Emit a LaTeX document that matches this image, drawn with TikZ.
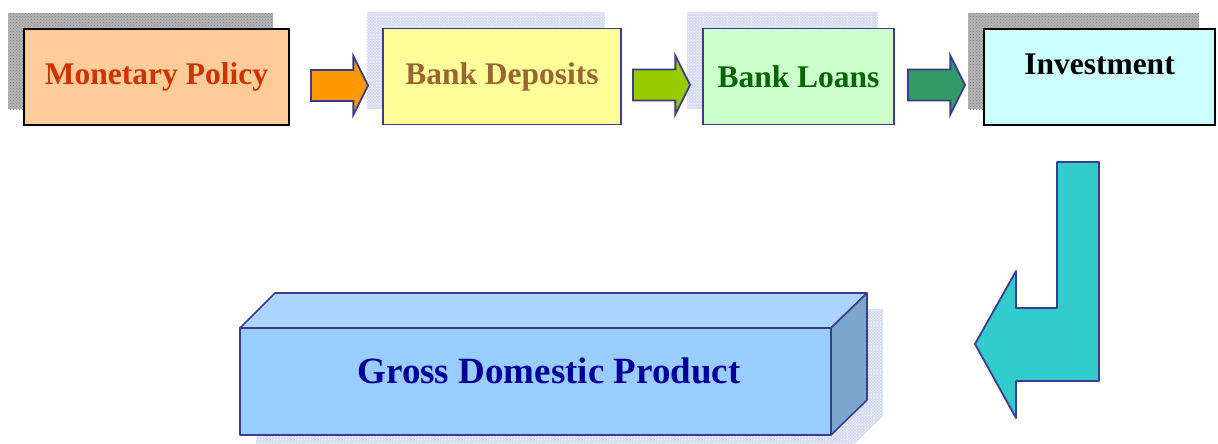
\documentclass[tikz,border=0pt]{standalone}
\usepackage{fontspec}
\setmainfont{Liberation Serif}
\usetikzlibrary{calc,shapes.arrows,shadows,patterns}

\definecolor{edgeblue}{HTML}{3C3C8E}
\definecolor{policyfill}{HTML}{FFCC99}
\definecolor{policytext}{HTML}{CC3300}
\definecolor{depositfill}{HTML}{FFFF99}
\definecolor{deposittext}{HTML}{996633}
\definecolor{loanfill}{HTML}{CCFFCC}
\definecolor{loantext}{HTML}{006600}
\definecolor{investfill}{HTML}{CCFFFF}
\definecolor{arroworange}{HTML}{FF9900}
\definecolor{arrowlime}{HTML}{99CC00}
\definecolor{arrowgreen}{HTML}{339966}
\definecolor{arrowteal}{HTML}{33CCCC}
\definecolor{cubefront}{HTML}{99CCFF}
\definecolor{cubetop}{HTML}{ABD5FF}
\definecolor{cubeside}{HTML}{7BA6CE}
\definecolor{gdptext}{HTML}{000099}
\definecolor{shadegray}{HTML}{B4B4B4}
\definecolor{shadeblue}{HTML}{D6DCF2}

\begin{document}
\begin{tikzpicture}[x=1pt, y=-1pt,
  box/.style={line width=1.6pt, minimum height=96pt, inner sep=0pt, outer sep=0pt,
    font=\fontsize{31.5}{36}\selectfont\bfseries},
  grayshade/.style={general shadow={shadow xshift=-16pt, shadow yshift=16pt, fill=shadegray},
    general shadow={shadow xshift=-16pt, shadow yshift=16pt, pattern=crosshatch dots, pattern color=gray}},
  blueshade/.style={general shadow={shadow xshift=-16pt, shadow yshift=16pt, fill=shadeblue},
    general shadow={shadow xshift=-16pt, shadow yshift=16pt, pattern=crosshatch dots, pattern color=white}},
  blockarrow/.style={single arrow, draw=edgeblue, line width=1.8pt, anchor=west,
    minimum height=57pt, minimum width=57pt, inner xsep=0pt, inner ysep=14.5pt, outer sep=0pt,
    single arrow head extend=14pt, single arrow tip angle=127},
  cubeline/.style={draw=edgeblue, line width=1.6pt, line join=round}
]
  \useasboundingbox (0,0) rectangle (1218,444);
  % top row
  \node[box, grayshade, draw=black, fill=policyfill, text=policytext, minimum width=265pt]
    (policy) at (156.5,77) {Monetary Policy};
  \node[box, blueshade, draw=edgeblue, fill=depositfill, text=deposittext, minimum width=238pt]
    (deposits) at (502,76.5) {Bank Deposits};
  \node[box, blueshade, draw=edgeblue, fill=loanfill, text=loantext, minimum width=191pt]
    (loans) at (798.5,76.5) {Bank Loans};
  \node[box, grayshade, draw=black, fill=investfill, text=black, minimum width=231pt, text depth=25pt]
    (invest) at (1099.5,77) {Investment};
  % arrows
  \node[blockarrow, fill=arroworange] (arrowa) at ($(policy.east)+(22,8.5)$) {};
  \node[blockarrow, fill=arrowlime] (arrowb) at ($(deposits.east)+(12,8.5)$) {};
  \node[blockarrow, fill=arrowgreen] (arrowc) at ($(loans.east)+(14,8.5)$) {};
  \draw[cubeline, line width=1.8pt, fill=arrowteal] (1057,162) -- (1099,162) -- (1099,381) -- (1016,381)
    -- (1016,418) -- (975,344) -- (1016,271) -- (1016,308) -- (1057,308) -- cycle;
  % block
  \fill[shadeblue] (256,344) -- (291,309) -- (883,309) -- (883,416) -- (847,451) -- (256,451) -- cycle;
  \fill[pattern=crosshatch dots, pattern color=white] (256,344) -- (291,309) -- (883,309)
    -- (883,416) -- (847,451) -- (256,451) -- cycle;
  \node[cubeline, fill=cubefront, minimum width=591pt, minimum height=107pt, outer sep=0pt]
    (gdp) at (535.5,381.5) {};
  \draw[cubeline, fill=cubetop] (gdp.north west) -- ++(35,-35) -- ++(592,0) -- (gdp.north east) -- cycle;
  \draw[cubeline, fill=cubeside] (gdp.north east) -- ++(36,-35) -- ++(0,107) -- (gdp.south east) -- cycle;
  \node[font=\fontsize{37}{42}\selectfont\bfseries, text=gdptext, inner sep=0pt]
    (gdplabel) at (549,371) {Gross Domestic Product};
\end{tikzpicture}
\end{document}
